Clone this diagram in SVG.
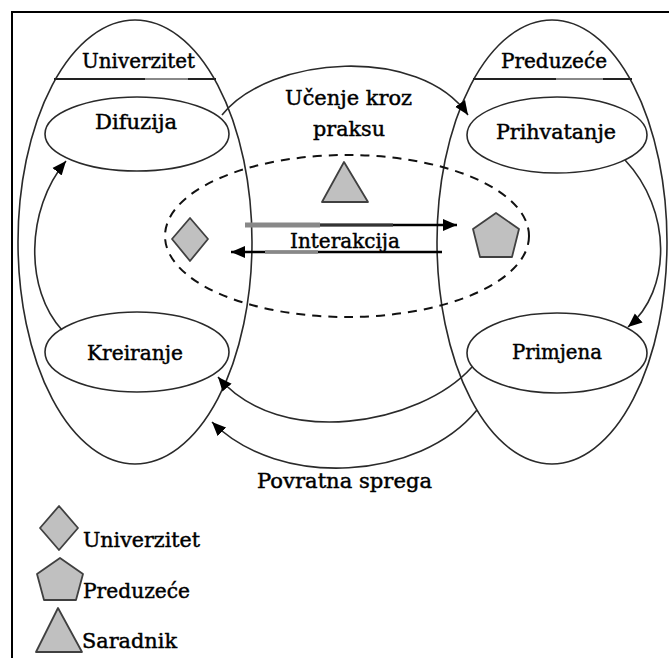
<svg xmlns="http://www.w3.org/2000/svg" width="669" height="658" viewBox="0 0 669 658">
<style>
.ln{fill:none;stroke:#2a2a2a;stroke-width:1.6}
.sh{fill:#c0c0c0;stroke:#404040;stroke-width:1.8;stroke-linejoin:round}
.t{font-family:"DejaVu Serif","Liberation Serif",serif;font-size:20px;fill:#000;stroke:#000;stroke-width:0.45}
</style>
<defs>
<marker id="ah" markerUnits="userSpaceOnUse" markerWidth="16" markerHeight="14" refX="14" refY="7" orient="auto">
<path d="M0,1 L14,7 L0,13 Z" fill="#000"/>
</marker>
</defs>
<rect width="669" height="658" fill="#fff"/>
<g id="frame"><path d="M12,658 V12 H669" fill="none" stroke="#000" stroke-width="2"/></g>

<g id="univerzitet">
<ellipse class="ln" cx="135" cy="242" rx="117" ry="222"/>
<line x1="54" y1="79" x2="216" y2="79" stroke="#222" stroke-width="2"/>
<line x1="145" y1="79" x2="188" y2="79" stroke="#888" stroke-width="2"/>
<text class="t" x="82" y="68" textLength="113" lengthAdjust="spacingAndGlyphs">Univerzitet</text>
</g>
<g id="preduzece">
<ellipse class="ln" cx="552" cy="242" rx="115" ry="222"/>
<line x1="473" y1="79" x2="632" y2="79" stroke="#222" stroke-width="2"/>
<line x1="556" y1="79" x2="603" y2="79" stroke="#888" stroke-width="2"/>
<text class="t" x="501" y="68" textLength="106" lengthAdjust="spacingAndGlyphs">Preduzeće</text>
</g>
<g id="difuzija">
<ellipse class="ln" cx="137" cy="134" rx="92" ry="37"/>
<text class="t" x="95" y="129" textLength="82" lengthAdjust="spacingAndGlyphs">Difuzija</text>
</g>
<g id="kreiranje">
<ellipse class="ln" cx="137" cy="352" rx="92" ry="40"/>
<text class="t" x="87" y="360" textLength="96" lengthAdjust="spacingAndGlyphs">Kreiranje</text>
</g>
<g id="prihvatanje">
<ellipse class="ln" cx="557" cy="135" rx="90" ry="38"/>
<text class="t" x="496" y="139" textLength="120" lengthAdjust="spacingAndGlyphs">Prihvatanje</text>
</g>
<g id="primjena">
<ellipse class="ln" cx="557" cy="353" rx="90" ry="40"/>
<text class="t" x="512" y="359" textLength="90" lengthAdjust="spacingAndGlyphs">Primjena</text>
</g>
<g id="interakcija-zona">
<ellipse cx="347" cy="236" rx="182" ry="81" fill="none" stroke="#111" stroke-width="2" stroke-dasharray="9 7"/>
</g>
<g id="saradnik"><path class="sh" d="M344,162 L368,202 L322,202 Z"/></g>
<g id="univerzitet-simbol"><path class="sh" d="M190,218 L208,239 L190,261 L172,239 Z"/></g>
<g id="preduzece-simbol"><path class="sh" d="M496,213 L519,229 L512,257 L480,257 L473,229 Z"/></g>

<g id="connectors">
<path class="ln" d="M222,115 C270,55 420,45 468,115" marker-end="url(#ah)"/>
<path class="ln" d="M62,330 C25,290 25,210 66,161" marker-end="url(#ah)"/>
<path class="ln" d="M625,160 C672,210 672,290 628,327" marker-end="url(#ah)"/>
<path class="ln" d="M472,367 C420,425 280,450 218,377" marker-end="url(#ah)"/>
<path class="ln" d="M477,410 C420,480 280,490 212,422" marker-end="url(#ah)"/>
<line x1="245" y1="225" x2="457" y2="225" stroke="#000" stroke-width="2.5" marker-end="url(#ah)"/>
<line x1="245" y1="225" x2="320" y2="225" stroke="#888" stroke-width="5"/>
<line x1="320" y1="225" x2="393" y2="225" stroke="#333" stroke-width="3"/>
<line x1="442" y1="252" x2="231" y2="252" stroke="#000" stroke-width="2.5" marker-end="url(#ah)"/>
<line x1="265" y1="252" x2="318" y2="252" stroke="#888" stroke-width="3.5"/>
<text class="t" x="290" y="248" textLength="110" lengthAdjust="spacingAndGlyphs">Interakcija</text>
<text class="t" x="285" y="105" textLength="127" lengthAdjust="spacingAndGlyphs">Učenje kroz</text>
<text class="t" x="313" y="136" textLength="72" lengthAdjust="spacingAndGlyphs">praksu</text>
<text class="t" x="257" y="488" textLength="175" lengthAdjust="spacingAndGlyphs">Povratna sprega</text>
</g>

<g id="legenda">
<path class="sh" d="M59,506 L78,528 L59,550 L40,528 Z"/>
<text class="t" x="83" y="547" textLength="117" lengthAdjust="spacingAndGlyphs">Univerzitet</text>
<path class="sh" d="M60,558 L83,574 L76,600 L44,600 L37,574 Z"/>
<text class="t" x="83" y="598" textLength="107" lengthAdjust="spacingAndGlyphs">Preduzeće</text>
<path class="sh" d="M58,608 L82,652 L36,652 Z"/>
<text class="t" x="82" y="648" textLength="95" lengthAdjust="spacingAndGlyphs">Saradnik</text>
</g>
</svg>
